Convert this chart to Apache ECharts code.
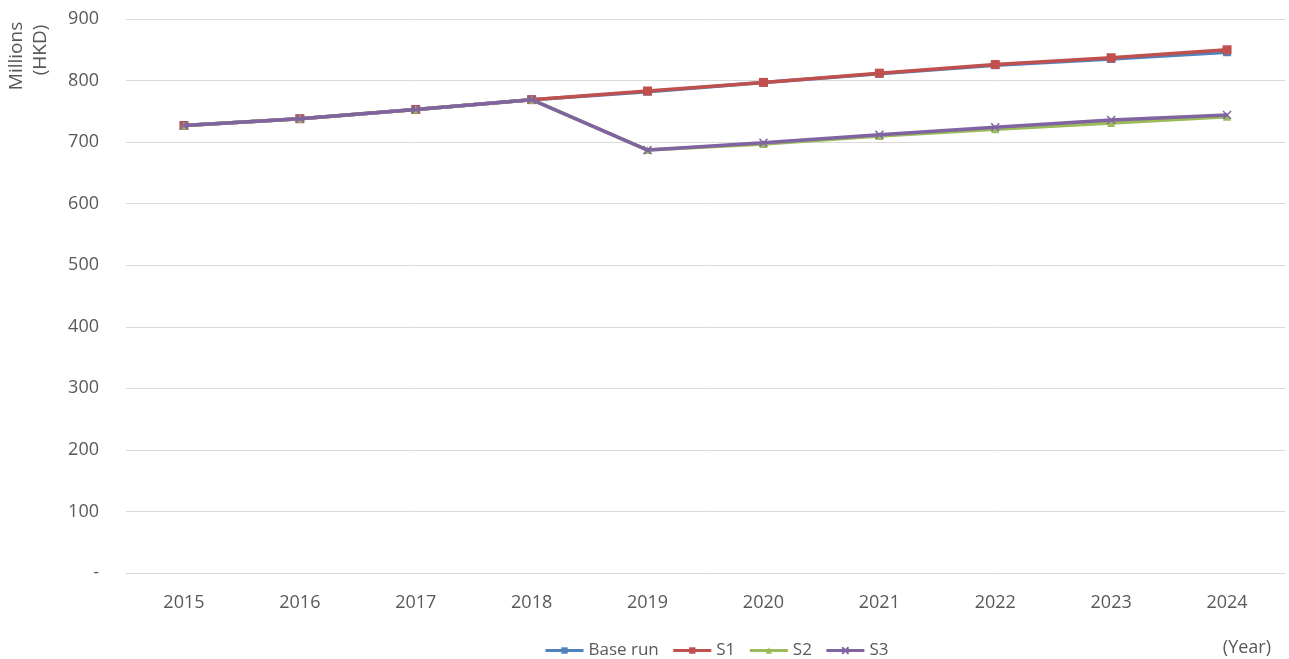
<!DOCTYPE html>
<html>
<head>
<meta charset="utf-8">
<style>
  html, body { margin: 0; padding: 0; background: #ffffff; }
  #chart { width: 1289px; height: 659px; }
</style>
<script src="https://cdn.jsdelivr.net/npm/echarts@6/dist/echarts.min.js"></script>
</head>
<body>
<div id="chart"></div>
<script>
// Years on the category axis
const years = ['2015', '2016', '2017', '2018', '2019', '2020', '2021', '2022', '2023', '2024'];

// Projected revenue, millions of HKD
const baseRun = [727, 738, 753, 769, 782, 797, 811, 825, 835, 846];
const s1      = [727, 738, 753, 769, 783, 797, 812, 826, 837, 850];
const s2      = [727, 738, 753, 769, 687, 697, 710, 721, 731, 741];
const s3      = [727, 738, 753, 769, 687, 699, 712, 724, 736, 744];

const seriesNames = ['Base run', 'S1', 'S2', 'S3'];
const seriesColors = ['#4F81BD', '#C0504D', '#9BBB59', '#8064A2'];

// Cross marker for S3
const crossPath = 'path://M0,0L10,10M10,0L0,10';

const FONT = '"Open Sans", "Noto Sans", sans-serif';
const TEXT_COLOR = '#595959';

const chart = echarts.init(document.getElementById('chart'));

function lineSeries(name, data, color, symbol, size, z) {
  return {
    name: name,
    type: 'line',
    data: data,
    z: z,
    symbol: symbol,
    symbolSize: size,
    showAllSymbol: true,
    lineStyle: { color: color, width: 3.5 },
    itemStyle: { color: color, borderColor: color, borderWidth: symbol === crossPath ? 1.5 : 0 },
    emphasis: { disabled: true },
    animation: false
  };
}

chart.setOption({
  backgroundColor: '#ffffff',
  textStyle: { fontFamily: FONT },
  grid: { left: 126, right: 4, top: 19, bottom: 86, containLabel: false },
  legend: {
    data: seriesNames,
    top: 637,
    left: 539,
    itemWidth: 38,
    itemHeight: 8,
    itemGap: 13,
    lineStyle: { width: 3 },
    textStyle: { color: TEXT_COLOR, fontSize: 17, fontFamily: FONT }
  },
  xAxis: {
    type: 'category',
    data: years,
    boundaryGap: true,
    axisLine: { show: true, lineStyle: { color: '#D9D9D9', width: 1 } },
    axisTick: { show: false },
    axisLabel: { color: TEXT_COLOR, fontSize: 18, margin: 21, fontFamily: FONT }
  },
  yAxis: {
    type: 'value',
    min: 0,
    max: 900,
    interval: 100,
    axisLine: { show: false },
    axisTick: { show: false },
    splitLine: { lineStyle: { color: '#D9D9D9', width: 1 } },
    axisLabel: {
      color: TEXT_COLOR,
      fontSize: 18,
      margin: 27,
      fontFamily: FONT,
      formatter: function (v) { return v === 0 ? '-' : String(v); }
    }
  },
  graphic: [
    {
      type: 'text',
      x: 17,
      y: 56,
      rotation: Math.PI / 2,
      style: {
        text: 'Millions',
        fill: TEXT_COLOR,
        font: '19px ' + FONT,
        textAlign: 'center',
        textVerticalAlign: 'middle'
      }
    },
    {
      type: 'text',
      x: 41,
      y: 50,
      rotation: Math.PI / 2,
      style: {
        text: '(HKD)',
        fill: TEXT_COLOR,
        font: '19px ' + FONT,
        textAlign: 'center',
        textVerticalAlign: 'middle'
      }
    },
    {
      type: 'text',
      right: 18,
      bottom: 2,
      style: {
        text: '(Year)',
        fill: TEXT_COLOR,
        font: '18px ' + FONT
      }
    }
  ],
  series: [
    lineSeries('Base run', baseRun, seriesColors[0], 'rect', 8, 2),
    lineSeries('S1', s1, seriesColors[1], 'rect', 9, 3),
    lineSeries('S2', s2, seriesColors[2], 'triangle', 8, 4),
    lineSeries('S3', s3, seriesColors[3], crossPath, 8, 5)
  ]
});
</script>
</body>
</html>
